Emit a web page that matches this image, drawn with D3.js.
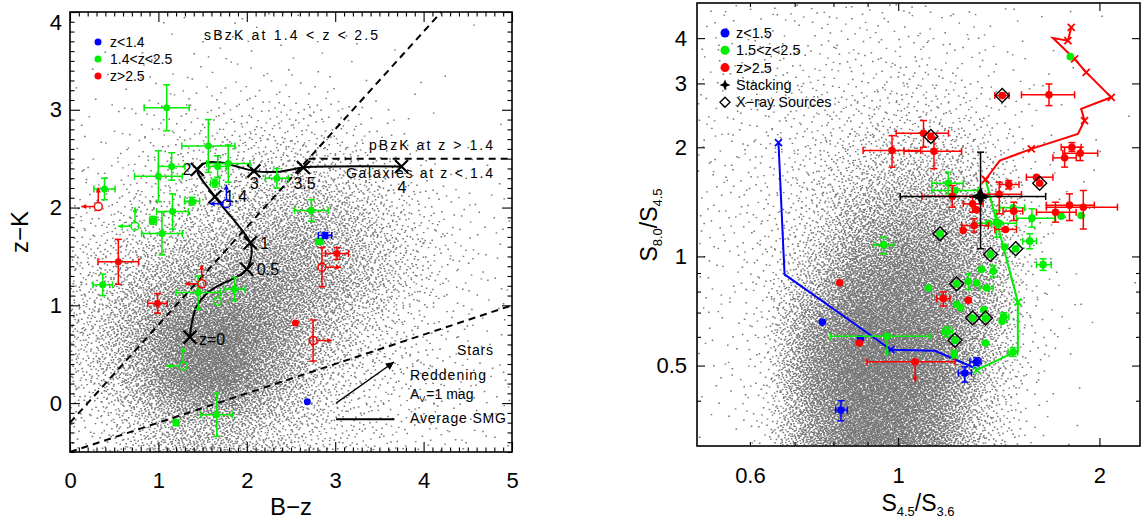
<!DOCTYPE html>
<html><head><meta charset="utf-8">
<script src="https://cdn.jsdelivr.net/npm/d3@7"></script>
<style>
body{margin:0;background:#fff}
svg{display:block}
text{font-family:"Liberation Sans",Arial,sans-serif;fill:#000}
</style>
</head><body>
<svg id="c" width="1146" height="522"></svg>
<script>
// ===================== DATA =====================
// --- Left panel (BzK diagram) ---
const L_xTicks = [0, 1, 2, 3, 4, 5];
const L_yTicks = [0, 1, 2, 3, 4];
const L_legendLabels = ["z<1.4", "1.4<z<2.5", "z>2.5"];

// background galaxy density, rows top -> bottom
const L_gridX = [0.25, 0.75, 1.25, 1.75, 2.25, 2.75, 3.25, 3.75, 4.25, 4.75];
const L_gridY = [3.75, 3.25, 2.75, 2.25, 1.75, 1.25, 0.75, 0.25, -0.25];
const L_density = [
  [0.1, 0.2, 0.3, 0.3, 0.3, 0.2, 0.15, 0.1, 0.05, 0.05],
  [0.2, 0.4, 0.5, 0.6, 0.6, 0.5, 0.35, 0.2, 0.1, 0.05],
  [0.4, 0.7, 1.0, 1.3, 1.5, 1.4, 1.0, 0.5, 0.2, 0.1],
  [0.7, 1.2, 1.6, 2.2, 2.8, 3.0, 2.3, 1.3, 0.6, 0.3],
  [1.2, 2.0, 2.8, 3.5, 4.5, 5.0, 3.5, 2.0, 1.0, 0.5],
  [2.0, 3.5, 5.0, 6.0, 6.5, 5.5, 4.0, 2.2, 1.0, 0.5],
  [2.5, 5.0, 8.0, 9.0, 7.0, 4.5, 2.5, 1.3, 0.7, 0.4],
  [2.0, 4.5, 8.5, 9.0, 6.0, 3.0, 1.5, 1.2, 1.0, 0.6],
  [1.0, 2.5, 4.0, 4.0, 3.0, 2.0, 1.5, 1.0, 0.7, 0.5]
];

// colour-selected SMG counterparts: x=B-z, y=z-K, ex/ey = symmetric errors
const L_green = [
  {x:1.094,y:3.02,ex:0.255,ey:0.235},{x:1.565,y:2.63,ex:0.30,ey:0.27},
  {x:1.15,y:2.42,ex:0.15,ey:0.14},{x:1.00,y:2.32,ex:0.27,ey:0.26},
  {x:1.67,y:2.42,ex:0.10,ey:0.11},{x:1.79,y:2.45,ex:0.245,ey:0.19},
  {x:1.64,y:2.25,ex:0.05,ey:0.04},{x:2.34,y:2.30,ex:0.13,ey:0.10},
  {x:0.39,y:2.19,ex:0.12,ey:0.11},{x:1.38,y:2.065,ex:0.085,ey:0.04},
  {x:1.16,y:1.96,ex:0.18,ey:0.18},{x:0.94,y:1.87,ex:0.04,ey:0.04},
  {x:1.04,y:1.735,ex:0.23,ey:0.22},{x:0.37,y:1.21,ex:0.11,ey:0.11},
  {x:1.45,y:1.13,ex:0.25,ey:0.17},{x:1.86,y:1.165,ex:0.12,ey:0.12},
  {x:2.82,y:1.655,ex:0.04,ey:0.03},{x:2.73,y:1.97,ex:0.19,ey:0.11},
  {x:1.66,y:-0.12,ex:0.18,ey:0.22},{x:1.20,y:-0.20,ex:0.03,ey:0.03}
];
const L_red = [
  {x:0.547,y:1.445,ex:0.23,ey:0.23},{x:0.99,y:1.02,ex:0.11,ey:0.10},
  {x:3.02,y:1.53,ex:0.13,ey:0.06},{x:2.55,y:0.82,ex:0,ey:0}
];
const L_blue = [
  {x:2.885,y:1.715,ex:0.075,ey:0.03},{x:2.685,y:0.013,ex:0,ey:0}
];
// limits (open circles): arr = arrow directions (l=left, u=up, r=right)
const L_greenLim = [
  {x:0.735,y:1.81,arr:"lu",ey:0},{x:1.28,y:0.38,arr:"lu",ey:0},{x:1.67,y:1.04,arr:"",ey:0}
];
const L_redLim = [
  {x:0.32,y:2.01,arr:"lu",ey:0},{x:1.49,y:1.22,arr:"lu",ey:0},
  {x:2.85,y:1.39,arr:"r",ey:0.2},{x:2.75,y:0.64,arr:"r",ey:0.21}
];
const L_blueLim = [{x:1.77,y:2.04,arr:"lu",ey:0}];

// average SMG track and its redshift markers
const L_smgTrack = [
  [1.357,0.675],[1.376,0.81],[1.43,0.985],[1.546,1.12],[1.70,1.21],[1.886,1.29],
  [2.0,1.37],[2.055,1.53],[2.04,1.64],[1.64,2.11],[1.44,2.39],[1.546,2.46],
  [1.70,2.46],[1.886,2.42],[2.08,2.375],[2.34,2.365],[2.64,2.41],[3.0,2.42],[3.75,2.42]
];
const L_smgZ = ["z=0", "0.5", "1", "1.4", "2", "3", "3.5", "4"];
const L_smgZx = [1.357, 2.0, 2.04, 1.64, 1.44, 2.08, 2.64, 3.75];
const L_smgZy = [0.675, 1.37, 1.64, 2.11, 2.39, 2.375, 2.41, 2.42];

// BzK selection boundaries
const L_sbzk = [[0, -0.2], [4.2, 4.0]];
const L_pbzk = [[2.7, 2.5], [5.0, 2.5]];
const L_stars = [[0, -0.5], [5.0, 1.0]];
const L_redden = [[3.01, 0.0], [3.665, 0.42]];
const L_smgKey = [[3.01, -0.164], [3.67, -0.164]];

// --- Right panel (IRAC colours) ---
const R_xLabels = [0.6, 1, 2];
const R_xMajor = [1, 2];
const R_xMinor = [0.6, 0.7, 0.8, 0.9];
const R_yLabels = [0.5, 1, 2, 3, 4];
const R_yMinor = [0.4, 0.6, 0.7, 0.8, 0.9];
const R_legendLabels = ["z<1.5", "1.5<z<2.5", "z>2.5", "Stacking", "X\u2212ray Sources"];

const R_gridX = [0.541, 0.629, 0.737, 0.855, 0.994, 1.156, 1.348, 1.566, 1.828, 2.128];
const R_gridY = [4.25, 3.11, 2.28, 1.67, 1.22, 0.892, 0.654, 0.479, 0.351];
const R_density = [
  [0.5, 0.6, 0.7, 0.7, 0.7, 0.6, 0.4, 0.25, 0.1, 0.05],
  [0.6, 0.8, 0.9, 1.0, 1.1, 1.0, 0.7, 0.4, 0.15, 0.05],
  [0.7, 0.9, 1.2, 1.5, 1.8, 1.7, 1.2, 0.5, 0.2, 0.05],
  [0.7, 1.0, 1.5, 2.5, 3.5, 3.5, 2.2, 0.7, 0.2, 0.05],
  [0.7, 1.0, 2.0, 4.5, 6.0, 6.0, 4.0, 0.9, 0.2, 0.05],
  [0.6, 1.0, 3.5, 7.0, 8.0, 7.5, 5.0, 1.0, 0.25, 0.05],
  [0.5, 1.0, 6.0, 9.0, 9.0, 8.0, 4.5, 0.9, 0.25, 0.05],
  [0.4, 1.0, 7.0, 9.5, 9.5, 8.0, 3.5, 0.8, 0.2, 0.05],
  [0.3, 1.0, 6.0, 9.0, 9.0, 7.0, 2.5, 0.6, 0.15, 0.05]
];

// x = S4.5/S3.6, y = S8.0/S4.5 ; xl/xh/yl/yh = error bar ends ; xr = X-ray source ; lim = upper limit
const R_blue = [
  {x:0.770,y:0.659},{x:0.878,y:0.593},
  {x:1.31,y:0.512,xl:1.28,xh:1.33,yl:0.50,yh:0.525},
  {x:1.258,y:0.477,xl:1.23,xh:1.287,yl:0.45,yh:0.496},
  {x:0.821,y:0.377,xl:0.806,xh:0.839,yl:0.352,yh:0.40}
];
const R_green = [
  {x:1.809,y:3.556},
  {x:1.188,y:1.592,xl:1.123,xh:1.251,yl:1.488,yh:1.708},
  {x:1.216,y:1.52,xl:1.123,xh:1.317},
  {x:1.486,y:1.362,xl:1.419,xh:1.546},
  {x:1.585,y:1.275,xl:1.503,xh:1.714,yl:1.204,yh:1.353},
  {x:1.753,y:1.291},{x:1.878,y:1.297},
  {x:1.366,y:1.235,xl:1.302,xh:1.503},
  {x:1.403,y:1.243,yl:1.13,yh:1.339},
  {x:1.416,y:1.235},
  {x:1.155,y:1.155,xr:1},
  {x:0.951,y:1.077,xl:0.919,xh:0.984,yl:1.017,yh:1.13},
  {x:1.573,y:1.102,xl:1.536,xh:1.61,yl:1.05,yh:1.155},
  {x:1.499,y:1.050,xr:1},{x:1.374,y:1.013,xr:1},
  {x:1.443,y:1.061},
  {x:1.647,y:0.949,xl:1.61,xh:1.694,yl:0.915,yh:0.985},
  {x:1.332,y:0.921},
  {x:1.387,y:0.911,yl:0.877,yh:0.944},
  {x:1.223,y:0.841,xr:1},
  {x:1.273,y:0.853,yl:0.81,yh:0.896},
  {x:1.31,y:0.845},
  {x:1.356,y:0.818,xl:1.325,xh:1.387},
  {x:1.11,y:0.818},{x:1.223,y:0.738},{x:1.24,y:0.722},{x:1.343,y:0.713},
  {x:1.292,y:0.676,xr:1},{x:1.351,y:0.676,xr:1},
  {x:1.439,y:0.681,xl:1.424,xh:1.464,yl:0.66,yh:0.70},
  {x:1.43,y:0.663},
  {x:1.184,y:0.619,xl:1.165,xh:1.205,yl:0.60,yh:0.639},
  {x:1.216,y:0.587,xr:1},
  {x:1.351,y:0.577},
  {x:1.213,y:0.536,yl:0.523,yh:0.551},
  {x:0.962,y:0.602,xl:0.792,xh:1.116,lim:1},
  {x:1.486,y:0.545,xl:1.46,xh:1.51,yl:0.53,yh:0.56}
];
const R_red = [
  {x:1.431,y:2.777,xl:1.395,xh:1.465,xr:1},
  {x:1.681,y:2.79,xl:1.529,xh:1.836,yl:2.606,yh:2.99},
  {x:1.091,y:2.186,xl:0.993,xh:1.189,yl:2.0,yh:2.37},
  {x:1.119,y:2.141,xr:1},
  {x:0.979,y:1.959,xl:0.886,xh:1.08,yl:1.763,yh:2.153},
  {x:1.131,y:1.95,xl:1.02,xh:1.244,yl:1.745,yh:2.13},
  {x:1.819,y:2.0,xl:1.753,xh:1.878,yl:1.95,yh:2.06},
  {x:1.872,y:1.926,xl:1.763,xh:1.988,yl:1.838,yh:2.0},
  {x:1.774,y:1.870,xl:1.704,xh:1.846,yl:1.763,yh:2.0},
  {x:1.628,y:1.592,xr:1},
  {x:1.61,y:1.654,xl:1.555,xh:1.704},
  {x:1.464,y:1.579,xl:1.419,xh:1.516,yl:1.536,yh:1.619},
  {x:1.416,y:1.483,xl:1.317,xh:1.529,yl:1.311,yh:1.602},
  {x:1.205,y:1.466,xl:1.085,xh:1.325,yl:1.367,yh:1.569},
  {x:1.292,y:1.397,xl:1.251,xh:1.34,yl:1.324,yh:1.457},
  {x:1.31,y:1.344},
  {x:1.489,y:1.333,xl:1.435,xh:1.536,yl:1.256,yh:1.411},
  {x:1.804,y:1.385,xl:1.666,xh:1.965,yl:1.256,yh:1.488},
  {x:1.892,y:1.367,xl:1.666,xh:2.128,yl:1.19,yh:1.52},
  {x:1.719,y:1.324,xl:1.61,xh:1.846,yl:1.243,yh:1.411},
  {x:1.447,y:1.187,xl:1.395,xh:1.503},
  {x:1.299,y:1.217,xl:1.244,xh:1.364,yl:1.167,yh:1.27},
  {x:1.251,y:1.179},
  {x:1.168,y:0.765,xl:1.142,xh:1.195,yl:0.730,yh:0.798},
  {x:1.273,y:0.757},
  {x:0.818,y:0.846},
  {x:0.875,y:0.577},
  {x:1.06,y:0.512,xl:0.898,xh:1.216,lim:1}
];
const R_stack = [{x:1.328,y:1.463,xl:1.007,xh:1.662,yl:1.050,yh:1.939}];

// model tracks (x, y) and the vertices carrying a marker
const R_blueTrack = [[0.662,2.06],[0.676,0.892],[0.906,0.609],[0.975,0.553],[1.135,0.549],[1.31,0.49]];
const R_blueMarks = [0, 3];
const R_greenTrack = [[1.31,0.486],[1.51,0.55],[1.51,0.748],[1.351,1.630]];
const R_greenMarks = [0, 2];
const R_redTrack = [[1.351,1.630],[1.419,1.838],[1.582,1.980],[1.857,2.178],[1.900,2.370],[1.878,2.552],
  [2.083,2.747],[1.911,3.219],[1.836,3.504],[1.704,4.004],[1.794,3.936],[1.815,4.282]];
const R_redMarks = [0, 2, 4, 6, 7, 8, 10, 11];

// ===================== DRAWING =====================
const COL = {blue:"#0000ff", green:"#00ee00", red:"#ff0000"};
const svg = d3.select("#c");

const xL = d3.scaleLinear().domain([0, 5]).range([70, 512]);
const yL = d3.scaleLinear().domain([-0.5, 4]).range([452, 12]);
const xR = d3.scaleLog().domain([0.5, 2.3]).range([697, 1140]);
const yR = d3.scaleLog().domain([0.3, 5]).range([446, 3]);

function halton(i, b) { let f = 1, r = 0; while (i > 0) { f /= b; r += f * (i % b); i = Math.floor(i / b); } return r; }
function locate(arr, p) {
  const n = arr.length;
  if (p <= arr[0]) return [0, 0, 0];
  if (p >= arr[n - 1]) return [n - 1, n - 1, 0];
  const i = d3.bisectRight(arr, p) - 1;
  return [i, i + 1, (p - arr[i]) / (arr[i + 1] - arr[i])];
}
function cloud(xs, ys, gx, gy, dens, N) {
  const cx = gx.map(v => xs(v)), cy = gy.map(v => ys(v));
  const [x0, x1] = xs.range(), y0 = ys.range()[1], y1 = ys.range()[0];
  let d = "";
  for (let i = 1; i <= N; i++) {
    const px = x0 + halton(i, 2) * (x1 - x0), py = y0 + halton(i, 3) * (y1 - y0);
    const [a0, a1, fx] = locate(cx, px), [b0, b1, fy] = locate(cy, py);
    const v = (dens[b0][a0] * (1 - fx) + dens[b0][a1] * fx) * (1 - fy) + (dens[b1][a0] * (1 - fx) + dens[b1][a1] * fx) * fy;
    if (halton(i, 5) < Math.pow(v / 10, 1.6) && px < x1 - 1.5 && py < y1 - 1.5) d += `M${px.toFixed(1)},${py.toFixed(1)}h1.6v1.4h-1.6z`;
  }
  svg.append("path").attr("d", d).attr("fill", "#777");
}
cloud(xL, yL, L_gridX, L_gridY, L_density, 130000);
cloud(xR, yR, R_gridX, R_gridY, R_density, 130000);

function seg(g, pts, xs, ys, dash, w, col) {
  g.append("path").attr("d", d3.line().x(d => xs(d[0])).y(d => ys(d[1]))(pts))
    .attr("fill", "none").attr("stroke", col || "#000").attr("stroke-width", w)
    .attr("stroke-dasharray", dash || null);
}
function arrowHead(g, x1, y1, x2, y2, col, s) {
  const a = Math.atan2(y2 - y1, x2 - x1);
  const p = [[x2, y2], [x2 - s * Math.cos(a) + s * 0.5 * Math.sin(a), y2 - s * Math.sin(a) - s * 0.5 * Math.cos(a)],
    [x2 - s * Math.cos(a) - s * 0.5 * Math.sin(a), y2 - s * Math.sin(a) + s * 0.5 * Math.cos(a)]];
  g.append("path").attr("d", "M" + p.join("L") + "Z").attr("fill", col);
}
function arrow(g, x1, y1, x2, y2, col, w, s) {
  g.append("line").attr("x1", x1).attr("y1", y1).attr("x2", x2).attr("y2", y2).attr("stroke", col).attr("stroke-width", w);
  arrowHead(g, x1, y1, x2, y2, col, s);
}
function errPoint(g, xs, ys, p, col, r, cap) {
  const X = xs(p.x), Y = ys(p.y);
  const e = g.append("g").attr("stroke", col).attr("stroke-width", 1.5);
  if (p.xl != null && p.xh != null) {
    e.append("line").attr("x1", xs(p.xl)).attr("x2", xs(p.xh)).attr("y1", Y).attr("y2", Y);
    [p.xl, p.xh].forEach(v => e.append("line").attr("x1", xs(v)).attr("x2", xs(v)).attr("y1", Y - cap).attr("y2", Y + cap));
  }
  if (p.yl != null && p.yh != null) {
    e.append("line").attr("y1", ys(p.yl)).attr("y2", ys(p.yh)).attr("x1", X).attr("x2", X);
    [p.yl, p.yh].forEach(v => e.append("line").attr("y1", ys(v)).attr("y2", ys(v)).attr("x1", X - cap).attr("x2", X + cap));
  }
  g.append("circle").attr("cx", X).attr("cy", Y).attr("r", r).attr("fill", col);
}
function xMark(g, X, Y, s, col, w) {
  g.append("path").attr("d", `M${X - s},${Y - s}L${X + s},${Y + s}M${X - s},${Y + s}L${X + s},${Y - s}`)
    .attr("stroke", col).attr("stroke-width", w).attr("fill", "none");
}
function diamond(g, X, Y, s) {
  g.append("path").attr("d", `M${X},${Y - s}L${X + s},${Y}L${X},${Y + s}L${X - s},${Y}Z`)
    .attr("fill", "none").attr("stroke", "#000").attr("stroke-width", 1.4);
}
function star(g, X, Y, r, w) {
  g.append("path").attr("d", `M${X},${Y - r}L${X + w},${Y - w}L${X + r},${Y}L${X + w},${Y + w}L${X},${Y + r}L${X - w},${Y + w}L${X - r},${Y}L${X - w},${Y - w}Z`)
    .attr("fill", "#000");
}

// ---------- Left panel marks ----------
const gl = svg.append("g");
seg(gl, L_sbzk, xL, yL, "7,5", 2);
seg(gl, L_pbzk, xL, yL, "7,5", 2);
seg(gl, L_stars, xL, yL, "7,5", 2);
gl.append("path").attr("d", d3.line().x(d => xL(d[0])).y(d => yL(d[1])).curve(d3.curveCatmullRom.alpha(0.5))(L_smgTrack))
  .attr("fill", "none").attr("stroke", "#000").attr("stroke-width", 2);
const lblOff = [[9, 8, "start"], [10, 6, "start"], [10, 6, "start"], [10, 5, "start"], [-6, 6, "end"], [-4, 18, "start"], [-10, 22, "start"], [-4, 27, "start"]];
L_smgZ.forEach((z, i) => {
  const X = xL(L_smgZx[i]), Y = yL(L_smgZy[i]);
  xMark(gl, X, Y, 6.5, "#000", 2.2);
  gl.append("text").attr("x", X + lblOff[i][0]).attr("y", Y + lblOff[i][1]).attr("text-anchor", lblOff[i][2])
    .attr("font-size", 16).text(z);
});
function leftPts(arr, col) {
  arr.forEach(p => errPoint(gl, xL, yL, p.ex ? {x:p.x, y:p.y, xl:p.x - p.ex, xh:p.x + p.ex, yl:p.y - p.ey, yh:p.y + p.ey} : p, col, 3.5, 3.5));
}
function leftLims(arr, col) {
  arr.forEach(p => {
    const X = xL(p.x), Y = yL(p.y);
    if (p.ey) {
      gl.append("line").attr("x1", X).attr("x2", X).attr("y1", yL(p.y - p.ey)).attr("y2", yL(p.y + p.ey)).attr("stroke", col).attr("stroke-width", 1.5);
      [p.y - p.ey, p.y + p.ey].forEach(v => gl.append("line").attr("x1", X - 3.5).attr("x2", X + 3.5).attr("y1", yL(v)).attr("y2", yL(v)).attr("stroke", col).attr("stroke-width", 1.5));
    }
    if (p.arr.includes("l")) arrow(gl, X - 4, Y, X - 17, Y, col, 1.5, 5);
    if (p.arr.includes("u")) arrow(gl, X, Y - 4, X, Y - 19, col, 1.5, 5);
    if (p.arr.includes("r")) arrow(gl, X + 4, Y, X + 19, Y, col, 1.5, 5);
    gl.append("circle").attr("cx", X).attr("cy", Y).attr("r", 4).attr("fill", "none").attr("stroke", col).attr("stroke-width", 1.5);
  });
}
leftPts(L_green, COL.green); leftLims(L_greenLim, COL.green);
leftPts(L_red, COL.red); leftLims(L_redLim, COL.red);
leftPts(L_blue, COL.blue); leftLims(L_blueLim, COL.blue);

// reddening vector + SMG key
arrow(gl, xL(L_redden[0][0]), yL(L_redden[0][1]), xL(L_redden[1][0]), yL(L_redden[1][1]), "#000", 1.3, 8);
seg(gl, L_smgKey, xL, yL, null, 2);

// annotations
function ann(g, x, y, txt, len, fs) {
  return g.append("text").attr("x", x).attr("y", y).attr("font-size", fs).attr("textLength", len).text(txt);
}
ann(gl, xL(1.516), yL(3.712), "sBzK at 1.4 < z < 2.5", 174, 14);
ann(gl, xL(3.382), yL(2.587), "pBzK at z > 1.4", 124, 14);
ann(gl, xL(3.122), yL(2.301), "Galaxies at z < 1.4", 147, 14);
ann(gl, xL(4.378), yL(0.491), "Stars", 36, 14);
ann(gl, xL(3.846), yL(0.235), "Reddening", 76, 14);
const av = gl.append("text").attr("x", xL(3.846)).attr("y", yL(0.041)).attr("font-size", 14);
av.append("tspan").text("A");
av.append("tspan").attr("font-size", 9).attr("dy", 3).text("V");
av.append("tspan").attr("dy", -3).attr("dx", 1).text("=1  mag");
ann(gl, xL(3.846), yL(-0.204), "Average SMG", 96, 14);

// legend
const lcol = [COL.blue, COL.green, COL.red];
L_legendLabels.forEach((t, i) => {
  gl.append("circle").attr("cx", 98).attr("cy", 42 + i * 17).attr("r", 3.5).attr("fill", lcol[i]);
  gl.append("text").attr("x", 110).attr("y", 47 + i * 17).attr("font-size", 14).text(t);
});

// ---------- Right panel marks ----------
const gr = svg.append("g");
function track(pts, marks, col) {
  seg(gr, pts, xR, yR, null, 2, col);
  marks.forEach(i => xMark(gr, xR(pts[i][0]), yR(pts[i][1]), 3.5, col, 1.8));
}
track(R_blueTrack, R_blueMarks, COL.blue);
track(R_greenTrack, R_greenMarks, COL.green);
track(R_redTrack, R_redMarks, COL.red);
function rightPts(arr, col) {
  arr.forEach(p => {
    errPoint(gr, xR, yR, p, col, 3.8, 3.5);
    if (p.lim) arrow(gr, xR(p.x), yR(p.y) + 3, xR(p.x), yR(p.y) + 20, col, 1.5, 5);
  });
}
rightPts(R_blue, COL.blue);
rightPts(R_green, COL.green);
rightPts(R_red, COL.red);
[...R_green, ...R_red].filter(p => p.xr).forEach(p => diamond(gr, xR(p.x), yR(p.y), 7));
R_stack.forEach(p => {
  const e = gr.append("g").attr("stroke", "#000").attr("stroke-width", 1.5);
  const X = xR(p.x), Y = yR(p.y);
  e.append("line").attr("x1", xR(p.xl)).attr("x2", xR(p.xh)).attr("y1", Y).attr("y2", Y);
  e.append("line").attr("y1", yR(p.yl)).attr("y2", yR(p.yh)).attr("x1", X).attr("x2", X);
  [p.xl, p.xh].forEach(v => e.append("line").attr("x1", xR(v)).attr("x2", xR(v)).attr("y1", Y - 3.5).attr("y2", Y + 3.5));
  [p.yl, p.yh].forEach(v => e.append("line").attr("y1", yR(v)).attr("y2", yR(v)).attr("x1", X - 3.5).attr("x2", X + 3.5));
  star(gr, X, Y, 10, 3);
});
// legend
const rcol = [COL.blue, COL.green, COL.red];
R_legendLabels.forEach((t, i) => {
  const Y = 33 + i * 17.3;
  if (i < 3) gr.append("circle").attr("cx", 725).attr("cy", Y).attr("r", 4.5).attr("fill", rcol[i]);
  else if (i === 3) star(gr, 725, Y, 5.5, 1.6);
  else diamond(gr, 725, Y, 5);
  gr.append("text").attr("x", 736).attr("y", Y + 5).attr("font-size", 14.5).text(t);
});

// ---------- Axes / frames ----------
function frame(xs, ys, xLab, yLab, xMaj, yMaj, xMin, yMin, majLen, minLen, padX, padY, fmtX, fmtY) {
  const g = svg.append("g");
  const [xa, xb] = xs.range(), yb = ys.range()[0], ya = ys.range()[1];
  const style = sel => { sel.select(".domain").remove(); sel.selectAll("line").attr("stroke", "#000").attr("stroke-width", 1.1); };
  const lab = sel => { sel.select(".domain").remove(); sel.selectAll("line").remove(); sel.attr("font-family", null).attr("font-size", 22); sel.selectAll("text").attr("fill", "#000"); };
  g.append("g").attr("transform", `translate(0,${yb})`).call(d3.axisBottom(xs).tickValues(xLab).tickSize(0).tickPadding(padX).tickFormat(fmtX)).call(lab);
  const yl = g.append("g").attr("transform", `translate(${xa},0)`).call(d3.axisLeft(ys).tickValues(yLab).tickSize(0).tickPadding(padY).tickFormat(fmtY)).call(lab);
  [[d3.axisBottom, yb, xs, "x"], [d3.axisTop, ya, xs, "x"], [d3.axisLeft, xa, ys, "y"], [d3.axisRight, xb, ys, "y"]].forEach(([ax, pos, sc, k]) => {
    const tr = k === "x" ? `translate(0,${pos})` : `translate(${pos},0)`;
    g.append("g").attr("transform", tr).call(ax(sc).tickValues(k === "x" ? xMaj : yMaj).tickSize(-majLen).tickFormat("")).call(style);
    g.append("g").attr("transform", tr).call(ax(sc).tickValues(k === "x" ? xMin : yMin).tickSize(-minLen).tickFormat("")).call(style);
  });
  g.append("rect").attr("x", xa).attr("y", ya).attr("width", xb - xa).attr("height", yb - ya)
    .attr("fill", "none").attr("stroke", "#000").attr("stroke-width", 1.6);
  return yl;
}
const L_xMinor = d3.range(0, 51).filter(i => i % 10).map(i => i / 10);
const L_yMinor = d3.range(-5, 41).filter(i => i % 10).map(i => i / 10);
const ylAxis = frame(xL, yL, L_xTicks, L_yTicks, L_xTicks, L_yTicks, L_xMinor, L_yMinor, 10, 4.5, 20, 8, d3.format("d"), d3.format("d"));
ylAxis.selectAll(".tick text").filter(d => d === 4).attr("y", 10);
frame(xR, yR, R_xLabels, R_yLabels, R_xMajor, R_yLabels, R_xMinor, R_yMinor, 8, 4, 21, 10, d => String(d), d => String(d));

// axis titles
svg.append("text").attr("transform", "translate(28,232) rotate(-90)").attr("text-anchor", "middle").attr("font-size", 24).text("z\u2212K");
svg.append("text").attr("x", 291).attr("y", 515).attr("text-anchor", "middle").attr("font-size", 24).text("B\u2212z");
const ty = svg.append("text").attr("transform", "translate(657,225) rotate(-90)").attr("text-anchor", "middle").attr("font-size", 23);
ty.append("tspan").text("S");
ty.append("tspan").attr("font-size", 13).attr("dy", 5).text("8.0");
ty.append("tspan").attr("dy", -5).text("/S");
ty.append("tspan").attr("font-size", 13).attr("dy", 5).text("4.5");
const tx = svg.append("text").attr("x", 918).attr("y", 511).attr("text-anchor", "middle").attr("font-size", 23);
tx.append("tspan").text("S");
tx.append("tspan").attr("font-size", 13).attr("dy", 5).text("4.5");
tx.append("tspan").attr("dy", -5).text("/S");
tx.append("tspan").attr("font-size", 13).attr("dy", 5).text("3.6");
</script>
</body></html>
